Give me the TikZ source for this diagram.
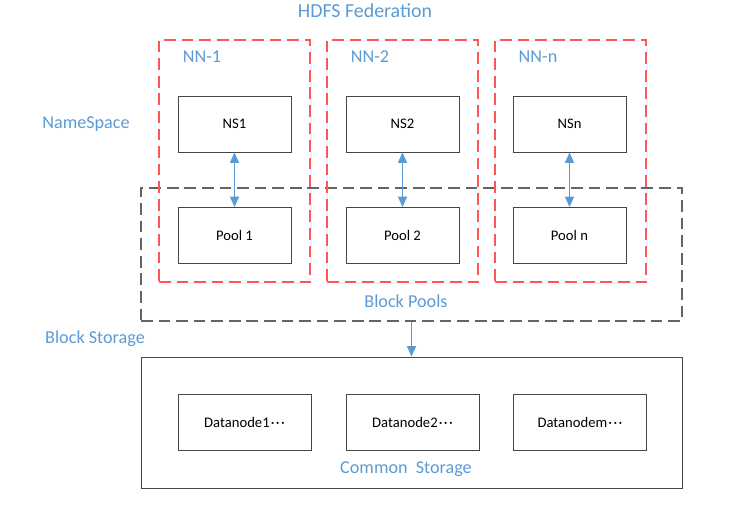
\documentclass[tikz,border=0pt]{standalone}
\usepackage{fontspec}
\setmainfont{Carlito}
\usepackage{tikz}
\usetikzlibrary{positioning,arrows.meta}
\definecolor{lblblue}{RGB}{91,155,213}
\definecolor{nnred}{RGB}{255,85,85}
\definecolor{poolgray}{RGB}{100,100,100}
\definecolor{boxgray}{RGB}{70,70,70}
\tikzset{
  unit/.style={draw=boxgray, line width=0.8pt, minimum width=3.39cm,
               minimum height=1.68cm, align=center, font=\fontsize{12.5}{14}\selectfont},
  dnode/.style={unit, minimum width=3.99cm},
  nnbox/.style={draw=nnred, line width=0.9pt, dash pattern=on 10pt off 5pt,
                minimum width=4.53cm, minimum height=7.26cm},
  poolbox/.style={draw=poolgray, line width=0.9pt, dash pattern=on 10pt off 5pt,
                  minimum width=16.23cm, minimum height=3.99cm},
  storebox/.style={draw=boxgray, line width=0.8pt, minimum width=16.23cm,
                   minimum height=3.93cm},
  lbl/.style={text=lblblue, font=\fontsize{15.5}{18}\selectfont, inner sep=1pt},
  link/.style={{Triangle[length=3.1mm,width=2.7mm]}-{Triangle[length=3.1mm,width=2.7mm]},
               draw=lblblue, fill=lblblue, line width=0.8pt},
  feed/.style={-{Triangle[length=3.1mm,width=2.7mm]}, draw=lblblue, fill=lblblue,
               line width=0.8pt},
}
\newcommand{\dotrun}{\kern1pt·\kern1.2pt·\kern1.2pt·}

\begin{document}
\begin{tikzpicture}[x=0.03cm, y=-0.03cm]
  \useasboundingbox (0,0) rectangle (753,514);

  % Title and side labels
  \node[lbl, font=\fontsize{17}{20}\selectfont] (title) at (365,11) {HDFS Federation};
  \node[lbl] (nslbl) at (86,124) {NameSpace};
  \node[lbl] (bslbl) at (95,339) {Block Storage};

  % Block pool frame
  \node[poolbox] (pools) at (411.5,254.5) {};
  \node[lbl] (poolslbl) at (406,301) {Block Pools};

  % Namenodes
  \node[nnbox] (nn1) at (234.5,161) {};
  \node[nnbox] (nn2) at (402.5,161) {};
  \node[nnbox] (nnn) at (570.5,161) {};
  \node[lbl] (nn1lbl) at (202,57) {NN-1};
  \node[lbl] (nn2lbl) at (370,57) {NN-2};
  \node[lbl] (nnnlbl) at (538,57) {NN-n};

  \node[unit] (ns1) at (234.5,124) {NS1};
  \node[unit] (ns2) at (402.5,124) {NS2};
  \node[unit] (nsn) at (569.5,124) {NSn};
  \node[unit] (pool1) at (234.5,235.5) {Pool 1};
  \node[unit] (pool2) at (402.5,235.5) {Pool 2};
  \node[unit] (pooln) at (569.5,235.5) {Pool n};

  % Common storage
  \node[storebox] (store) at (411.5,422.5) {};
  \node[dnode] (dn1) at (244.5,422) {Datanode1\dotrun};
  \node[dnode] (dn2) at (412.5,422) {Datanode2\dotrun};
  \node[dnode] (dnm) at (580,422) {Datanodem\dotrun};
  \node[lbl] (storelbl) at (406,469) {Common\ \ Storage};

  % Links
  \draw[link] (ns1) -- (pool1);
  \draw[link] (ns2) -- (pool2);
  \draw[link] (nsn) -- (pooln);
  \draw[feed] (pools.south) -- (store.north);

\end{tikzpicture}
\end{document}
